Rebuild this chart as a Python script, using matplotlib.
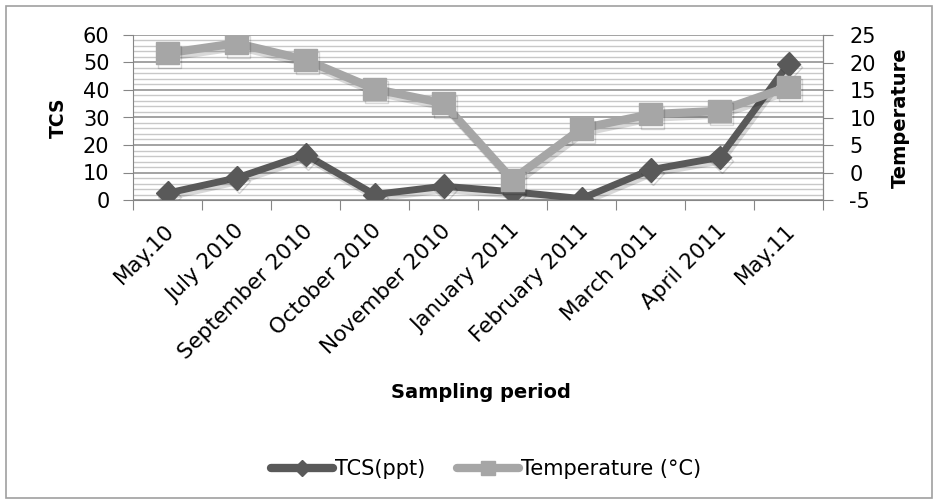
import matplotlib
matplotlib.use("Agg")
import matplotlib.pyplot as plt
import matplotlib.patheffects as pe
import matplotlib.transforms as mtransforms
from matplotlib.ticker import MultipleLocator, FixedLocator, NullFormatter
from matplotlib.patches import Rectangle

plt.rcParams['font.family'] = ['DejaVu Sans']
plt.rcParams['axes.unicode_minus'] = False

categories = ["May.10", "July 2010", "September 2010", "October 2010", "November 2010",
              "January 2011", "February 2011", "March 2011", "April 2011", "May.11"]
tcs_ppt = [2.5, 8, 16.5, 2, 5, 3, 0.5, 11, 15.5, 49.5]
temperature_c = [21.7, 23.5, 20.5, 15.2, 12.6, -1.3, 8, 10.6, 11.2, 15.6]

dark = '#595959'
light = '#a6a6a6'
axis_gray = '#868686'

fig = plt.figure(figsize=(9.38, 5.03), dpi=100)
fig.patches.append(Rectangle((6/938, 5/503), 926/938, 492/503, transform=fig.transFigure,
                             fill=False, edgecolor='#a0a0a0', linewidth=1.2))

ax = fig.add_axes([133/938, 1-200/503, 690/938, 165/503])
ax2 = ax.twinx()

x = list(range(len(categories)))
shadow = [pe.SimpleLineShadow(offset=(1.5, -2.5), shadow_color='black', alpha=0.15), pe.Normal()]

ax.plot(x, tcs_ppt, color=dark, lw=5, marker='D', markersize=12,
        markeredgecolor=dark, path_effects=shadow, zorder=3)
ax2.plot(x, temperature_c, color=light, lw=6, marker='s', markersize=16,
         markeredgecolor=light, path_effects=shadow, zorder=3)

ax.set_xlim(-0.5, 9.5)
ax.set_ylim(0, 60)
ax2.set_ylim(-5, 25)

ax.yaxis.set_major_locator(MultipleLocator(10))
ax.yaxis.set_minor_locator(MultipleLocator(2))
ax2.yaxis.set_major_locator(MultipleLocator(5))
ax2.yaxis.set_minor_locator(MultipleLocator(1))

ax.grid(which='minor', axis='y', color='#c8c8c8', lw=1)
ax.grid(which='major', axis='y', color='#8a8a8a', lw=1.1)
ax.set_axisbelow(True)

ax.xaxis.set_major_locator(FixedLocator([i - 0.5 for i in range(len(categories) + 1)]))
ax.xaxis.set_major_formatter(NullFormatter())
ax.xaxis.set_minor_locator(FixedLocator(x))
ax.set_xticklabels(categories, minor=True, rotation=45, ha='right', va='center',
                   rotation_mode='anchor', fontsize=15.5)
ax.tick_params(axis='x', which='minor', length=0, pad=20)
ax.tick_params(axis='x', which='major', length=7, color=axis_gray, direction='out')
ax.tick_params(axis='y', which='major', length=7, color=axis_gray, labelsize=15, pad=10)
ax.tick_params(axis='y', which='minor', length=0)
ax2.tick_params(axis='y', which='major', length=7, color=axis_gray, labelsize=15, pad=12)
ax2.tick_params(axis='y', which='minor', length=0)

shift = mtransforms.ScaledTranslation(4/100, 0, fig.dpi_scale_trans)
for lab in ax.get_xticklabels(minor=True):
    lab.set_transform(lab.get_transform() + shift)

for a in (ax, ax2):
    a.spines['top'].set_visible(False)
    for s in ('left', 'right', 'bottom'):
        a.spines[s].set_color(axis_gray)
ax2.spines['left'].set_visible(False)
ax2.spines['bottom'].set_visible(False)

fig.text(58/938, 1-118/503, 'TCS', rotation=90, ha='center', va='center',
         fontsize=13.5, fontweight='bold')
fig.text(900/938, 1-118/503, 'Temperature', rotation=90, ha='center', va='center',
         fontsize=14, fontweight='bold')
fig.text(481/938, 1-393/503, 'Sampling period', ha='center', va='center',
         fontsize=14, fontweight='bold')

h1 = plt.Line2D([], [], color=dark, lw=6, marker='D', markersize=8, markeredgecolor=dark,
                solid_capstyle='round')
h2 = plt.Line2D([], [], color=light, lw=6, marker='s', markersize=10, markeredgecolor=light,
                solid_capstyle='round')
fig.legend([h1, h2], ['TCS(ppt)', 'Temperature (°C)'], loc='center',
           bbox_to_anchor=(486/938, 1-469/503), ncol=2, frameon=False, fontsize=15,
           handlelength=3.0, handletextpad=0.1, columnspacing=1.5)

fig.savefig('out.png', dpi=100)
